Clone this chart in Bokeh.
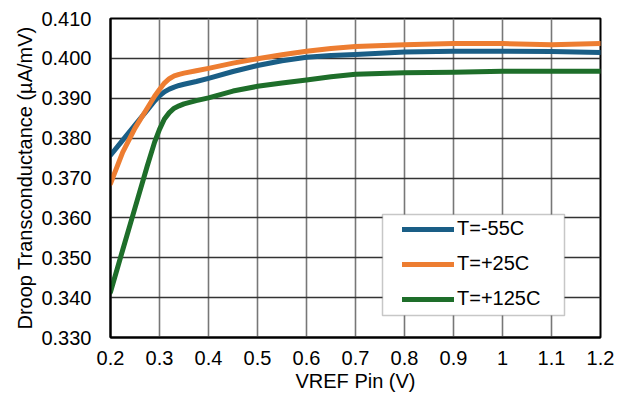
from bokeh.plotting import figure
from bokeh.models import (Range1d, FixedTicker, NumeralTickFormatter, Legend, LegendItem,
                          BoxAnnotation)
from bokeh.embed import file_html
from bokeh.resources import INLINE

# ---- data ----
vref = [0.2, 0.225, 0.25, 0.275, 0.29, 0.3, 0.31, 0.32, 0.33, 0.34, 0.35, 0.375,
        0.4, 0.45, 0.5, 0.55, 0.6, 0.65, 0.7, 0.8, 0.9, 1.0, 1.1, 1.2]
t_m55 = [0.3757, 0.3795, 0.3833, 0.3870, 0.3893, 0.3906, 0.3916, 0.3923, 0.3928,
         0.3932, 0.3935, 0.3942, 0.3950, 0.3967, 0.3982, 0.3994, 0.4003, 0.4007,
         0.4010, 0.4016, 0.4018, 0.4018, 0.4017, 0.4015]
t_p25 = [0.3686, 0.3765, 0.3825, 0.3875, 0.3905, 0.3922, 0.3938, 0.3949, 0.3956,
         0.3960, 0.3963, 0.3969, 0.3975, 0.3988, 0.3999, 0.4009, 0.4018, 0.4025,
         0.4030, 0.4034, 0.4037, 0.4037, 0.4034, 0.4037]
t_p125 = [0.3414, 0.3520, 0.3625, 0.3730, 0.3790, 0.3822, 0.3848, 0.3864, 0.3875,
          0.3881, 0.3886, 0.3894, 0.3901, 0.3918, 0.3930, 0.3938, 0.3946, 0.3954,
          0.3960, 0.3964, 0.3965, 0.3968, 0.3968, 0.3968]
series_names = ["T=-55C", "T=+25C", "T=+125C"]
x_ticks = [0.2, 0.3, 0.4, 0.5, 0.6, 0.7, 0.8, 0.9, 1.0, 1.1, 1.2]
y_ticks = [0.33, 0.34, 0.35, 0.36, 0.37, 0.38, 0.39, 0.40, 0.41]

colors = ["#1a5e86", "#ed7d31", "#1e6e2a"]
FONT = "Liberation Sans"

p = figure(width=627, height=406, output_backend="svg", toolbar_location=None,
           x_range=Range1d(0.2, 1.2), y_range=Range1d(0.33, 0.41),
           min_border_left=110, min_border_right=27, min_border_top=18,
           min_border_bottom=69)

p.xaxis.ticker = FixedTicker(ticks=x_ticks)
p.yaxis.ticker = FixedTicker(ticks=y_ticks)
p.xaxis.formatter = NumeralTickFormatter(format="0.[0]")
p.yaxis.formatter = NumeralTickFormatter(format="0.000")
p.xaxis.axis_label = "VREF Pin (V)"
p.yaxis.axis_label = "Droop Transconductance (µA/mV)"

for ax in (p.xaxis, p.yaxis):
    ax.major_label_text_font = FONT
    ax.major_label_text_font_size = "20px"
    ax.major_label_text_color = "black"
    ax.axis_label_text_font = FONT
    ax.axis_label_text_font_size = "20px"
    ax.axis_label_text_font_style = "normal"
    ax.axis_label_text_color = "black"
    ax.major_tick_out = 0
    ax.major_tick_in = 0
    ax.minor_tick_out = 0
    ax.minor_tick_in = 0
    ax.axis_line_color = "black"
    ax.axis_line_width = 2

p.xaxis.major_label_standoff = 13
p.xaxis.axis_label_standoff = 2
p.yaxis.major_label_standoff = 19
p.yaxis.axis_label_standoff = 2

p.xgrid.grid_line_color = "#777777"
p.xgrid.grid_line_width = 1.6
p.ygrid.grid_line_color = "#333333"
p.ygrid.grid_line_width = 1.6
p.outline_line_color = "black"
p.outline_line_width = 2
p.background_fill_color = "white"
p.border_fill_color = "white"

renderers = []
for ys, c in zip([t_m55, t_p25, t_p125], colors):
    r = p.line(vref, ys, line_color=c, line_width=5, line_cap="round", line_join="round")
    renderers.append(r)

box = BoxAnnotation(left=272, right=454, bottom=22, top=123,
                    left_units="screen", right_units="screen",
                    bottom_units="screen", top_units="screen",
                    fill_color="white", fill_alpha=1.0,
                    line_color="#444444", line_width=1.5, level="overlay")
p.add_layout(box)

legend = Legend(items=[LegendItem(label=n, renderers=[r]) for n, r in zip(series_names, renderers)],
                location=(292, 27), padding=0, margin=0, spacing=12,
                glyph_width=52, glyph_height=22, label_height=22, label_standoff=3,
                label_text_font=FONT, label_text_font_size="20px",
                label_text_color="black",
                border_line_alpha=0, background_fill_alpha=0)
p.add_layout(legend, "center")

open("out.html", "w").write(file_html(p, INLINE))
